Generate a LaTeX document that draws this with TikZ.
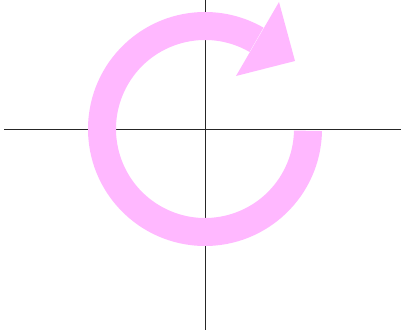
\documentclass[tikz,border=0pt]{standalone}
\definecolor{ringpink}{RGB}{255,184,255}
\begin{document}
\begin{tikzpicture}[x=1pt,y=1pt,axis/.style={draw=black!85,line width=0.9pt}]
\useasboundingbox (0,0) rectangle (401,331);
\coordinate (c) at (205,202);
% axes
\draw[axis] (4,202) -- (401,202);
\draw[axis] (205,331) -- (205,1);
% ring
\fill[ringpink] ([shift={(-1:117)}]c) arc[start angle=-1,end angle=-300,radius=117]
  -- ([shift={(60:89)}]c) arc[start angle=-300,end angle=-1,radius=89] -- cycle;
% arrow head
\fill[ringpink] (279,329) -- (295,270) -- (236,255) -- cycle;
\end{tikzpicture}
\end{document}
